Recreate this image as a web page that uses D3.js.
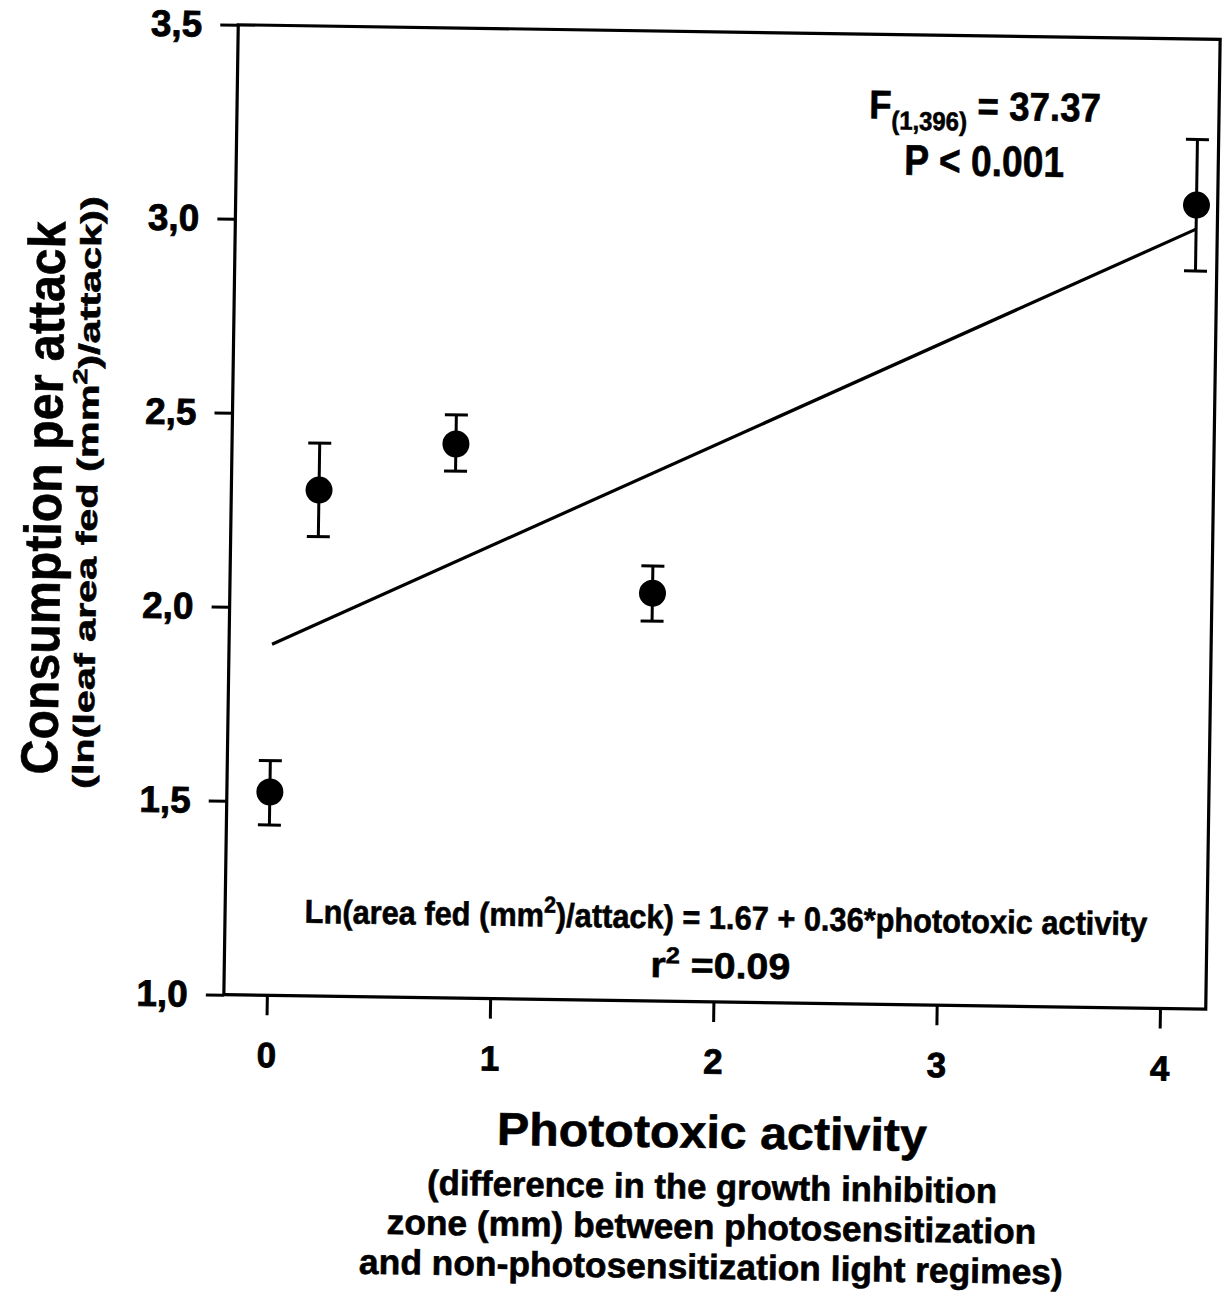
<!DOCTYPE html>
<html>
<head>
<meta charset="utf-8">
<script src="https://cdn.jsdelivr.net/npm/d3@7"></script>
<style>
  html, body { margin: 0; padding: 0; background: #fff; }
  svg { display: block; }
  text { font-family: "Liberation Sans", Arial, Helvetica, sans-serif; fill: #000; }
</style>
</head>
<body>
<svg id="chart" width="1231" height="1293"></svg>
<script>
// Phototoxic activity of the fungal strain vs. consumption per attack (means ± SE)
const activity   = [0.0, 0.20, 0.81, 1.70, 4.11];
const meanLn     = [1.524, 2.304, 2.428, 2.051, 3.072];
const upperSE    = [1.605, 2.425, 2.503, 2.121, 3.241];
const lowerSE    = [1.439, 2.184, 2.358, 1.979, 2.902];

// fitted regression line, as drawn
const fitX = [0.0, 4.11];
const fitY = [1.905, 3.010];

const xTickValues = [0, 1, 2, 3, 4];
const xTickLabels = ["0", "1", "2", "3", "4"];
const yTickValues = [1.0, 1.5, 2.0, 2.5, 3.0, 3.5];
const yTickLabels = ["1,0", "1,5", "2,0", "2,5", "3,0", "3,5"];

const svg = d3.select("#chart");
svg.append("rect").attr("width", 1231).attr("height", 1293).attr("fill", "#fff");

// the whole figure sits slightly tilted on the page
const root = svg.append("g").attr("transform", "rotate(0.85 722 517)");

const L = 231, R = 1213, T = 32, B = 1002;
const x = d3.scaleLinear().domain([-0.1926, 4.205]).range([L, R]);
const y = d3.scaleLinear().domain([1.0, 3.5]).range([B, T]);

// helper: place text and squeeze/stretch it horizontally to a given width
function fitText(sel, width, tx, ty, angle) {
  const w = sel.node().getComputedTextLength();
  const k = width / w;
  sel.attr("transform", `translate(${tx},${ty}) rotate(${angle || 0}) scale(${k},1)`);
  return sel;
}

// y axis
const yAxis = d3.axisLeft(y)
  .tickValues(yTickValues)
  .tickFormat((d, i) => yTickLabels[i])
  .tickSize(18).tickSizeOuter(0).tickPadding(18);
const gy = root.append("g").attr("transform", `translate(${L},0)`).call(yAxis);
gy.select(".domain").remove();
gy.selectAll("line").attr("stroke", "#000").attr("stroke-width", 3);
gy.selectAll("text")
  .style("font-size", "37px").style("font-weight", "bold")
  .style("font-family", "'Liberation Sans', Arial, sans-serif").attr("fill", "#000")
  .attr("stroke", "#000").attr("stroke-width", 0.8);

// x axis
const xAxis = d3.axisBottom(x)
  .tickValues(xTickValues)
  .tickFormat((d, i) => xTickLabels[i])
  .tickSize(20).tickSizeOuter(0).tickPadding(27);
const gx = root.append("g").attr("transform", `translate(0,${B})`).call(xAxis);
gx.select(".domain").remove();
gx.selectAll("line").attr("stroke", "#000").attr("stroke-width", 3);
gx.selectAll("text")
  .style("font-size", "35px").style("font-weight", "bold")
  .style("font-family", "'Liberation Sans', Arial, sans-serif").attr("fill", "#000")
  .attr("stroke", "#000").attr("stroke-width", 0.8);

// plot frame
root.append("rect")
  .attr("x", L).attr("y", T).attr("width", R - L).attr("height", B - T)
  .attr("fill", "none").attr("stroke", "#000").attr("stroke-width", 3.2);

// regression line
root.append("path")
  .datum(fitX.map((v, i) => [v, fitY[i]]))
  .attr("d", d3.line().x(d => x(d[0])).y(d => y(d[1])))
  .attr("fill", "none").attr("stroke", "#000").attr("stroke-width", 3.2);

// error bars
const pts = activity.map((v, i) => ({ x: v, m: meanLn[i], hi: upperSE[i], lo: lowerSE[i] }));
const eb = root.append("g").attr("stroke", "#000").attr("stroke-width", 3);
pts.forEach(p => {
  eb.append("line").attr("x1", x(p.x)).attr("x2", x(p.x)).attr("y1", y(p.hi)).attr("y2", y(p.lo));
  [p.hi, p.lo].forEach(v => {
    eb.append("line").attr("x1", x(p.x) - 11.5).attr("x2", x(p.x) + 11.5)
      .attr("y1", y(v)).attr("y2", y(v));
  });
});

// means
root.append("g").selectAll("circle").data(pts).join("circle")
  .attr("cx", d => x(d.x)).attr("cy", d => y(d.m)).attr("r", 13.5).attr("fill", "#000");

// shared style for annotation text
function boldText(size, anchor) {
  return root.append("text").attr("text-anchor", anchor || "middle")
    .style("font-weight", "bold").style("font-size", size + "px")
    .attr("stroke", "#000").attr("stroke-width", 0.6);
}

// statistics, top right
const fLine = boldText(40, "start");
fLine.append("tspan").text("F");
fLine.append("tspan").attr("dy", 11).style("font-size", "26px").text("(1,396)");
fLine.append("tspan").attr("dy", -11).text(" = 37.37");
fitText(fLine, 232, 863, 116);

const pLine = boldText(43).text("P < 0.001");
fitText(pLine, 160, 979, 172);

// regression equation
const eq = boldText(33);
eq.append("tspan").text("Ln(area fed (mm");
eq.append("tspan").attr("dy", -14).style("font-size", "23px").text("2");
eq.append("tspan").attr("dy", 14).text(")/attack) = 1.67 + 0.36*phototoxic activity");
fitText(eq, 843, 732, 929);

const r2 = boldText(36);
r2.append("tspan").text("r");
r2.append("tspan").attr("dy", -14).style("font-size", "23px").text("2");
r2.append("tspan").attr("dy", 14).text(" =0.09");
fitText(r2, 140, 727, 978);

// y axis title
const yt = boldText(52).text("Consumption per attack");
fitText(yt, 553, 61, 508, -90);

const ys = boldText(29);
ys.append("tspan").text("(ln(leaf area fed (mm");
ys.append("tspan").attr("dy", -12).style("font-size", "20px").text("2");
ys.append("tspan").attr("dy", 12).text(")/attack))");
fitText(ys, 593, 97, 502, -90);

// x axis title
const xt = boldText(46).text("Phototoxic activity");
fitText(xt, 430, 721, 1148);

const xSub = [
  ["(difference in the growth inhibition", 570, 1199],
  ["zone (mm) between photosensitization", 650, 1239],
  ["and non-photosensitization light regimes)", 704, 1279]
];
xSub.forEach(([s, w, by]) => {
  const t = boldText(35).text(s);
  fitText(t, w, 722, by);
});
</script>
</body>
</html>
